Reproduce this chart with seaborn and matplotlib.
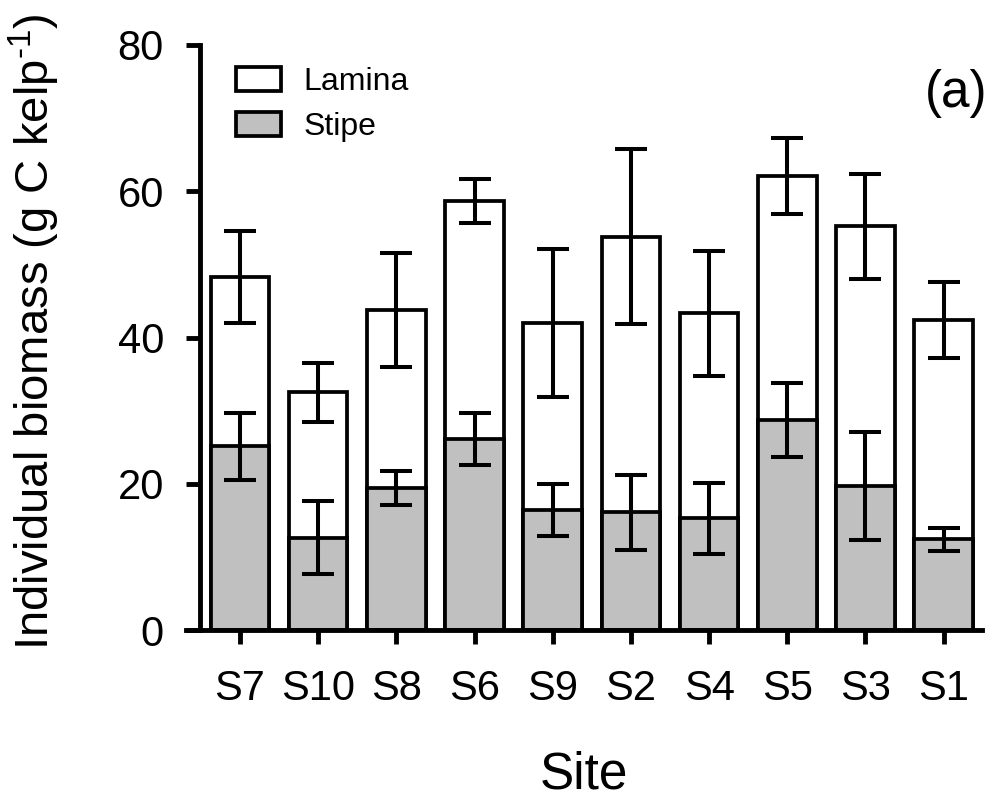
import numpy as np
import pandas as pd
import matplotlib
matplotlib.use("Agg")
import matplotlib.pyplot as plt
import seaborn as sns
from matplotlib.patches import Patch

sites = ["S7", "S10", "S8", "S6", "S9", "S2", "S4", "S5", "S3", "S1"]
total = [48.3, 32.5, 43.7, 58.7, 42.0, 53.8, 43.3, 62.1, 55.2, 42.4]
total_err = [6.3, 4.0, 7.8, 3.0, 10.1, 12.0, 8.5, 5.25, 7.2, 5.2]
stipe = [25.1, 12.6, 19.4, 26.1, 16.4, 16.1, 15.3, 28.7, 19.7, 12.4]
stipe_err = [4.55, 5.0, 2.35, 3.55, 3.6, 5.15, 4.85, 5.1, 7.4, 1.6]
yticks = [0, 20, 40, 60, 80]

sns.set_theme(style="ticks")
plt.rcParams["font.family"] = ["Liberation Sans", "DejaVu Sans"]
plt.rcParams["mathtext.fontset"] = "custom"
plt.rcParams["mathtext.rm"] = "Liberation Sans"
plt.rcParams["mathtext.it"] = "Liberation Sans:italic"
for k in ["text.color", "axes.labelcolor", "xtick.color", "ytick.color", "axes.edgecolor"]:
    plt.rcParams[k] = "black"

df = pd.DataFrame({"Site": sites, "Total": total, "TotalErr": total_err,
                   "Stipe": stipe, "StipeErr": stipe_err})

fig = plt.figure(figsize=(9.98, 7.98), dpi=100)
ax = fig.add_axes([186 / 998, 1 - 630 / 798, (982 - 186) / 998, (630 - 45) / 798])

gray = "#c0c0c0"
edge_lw = 2.7
sns.barplot(data=df, x="Site", y="Total", order=sites, color="white", saturation=1,
            edgecolor="black", linewidth=edge_lw, width=0.75, errorbar=None, ax=ax)
sns.barplot(data=df, x="Site", y="Stipe", order=sites, color=gray, saturation=1,
            edgecolor="black", linewidth=edge_lw, width=0.75, errorbar=None, ax=ax)

pos = np.arange(len(sites))
ax.errorbar(pos, df["Total"], yerr=df["TotalErr"], fmt="none", ecolor="black",
            elinewidth=2.9, capsize=11.5, capthick=2.9, zorder=5)
ax.errorbar(pos, df["Stipe"], yerr=df["StipeErr"], fmt="none", ecolor="black",
            elinewidth=2.9, capsize=11.5, capthick=2.9, zorder=5)

ax.set_ylim(0, 80)
ax.set_xlim(-0.69, 9.49)
ax.set_yticks(yticks)
ax.set_yticklabels([str(v) for v in yticks])

for s in ["top", "right"]:
    ax.spines[s].set_visible(False)
ax.spines["left"].set_position(("data", -0.51))
ax.spines["left"].set_linewidth(3.5)
ax.spines["bottom"].set_linewidth(3.5)
ax.tick_params(axis="both", direction="out", length=10, width=3.5, labelsize=30,
               colors="black")
ax.tick_params(axis="y", pad=16)
ax.tick_params(axis="x", pad=18)

ax.set_xlabel("Site", fontsize=37, labelpad=30)
ax.set_ylabel(r"Individual biomass (g C kelp$^{\text{-}1}$)", fontsize=34)
ax.yaxis.set_label_coords(-0.156, 0.51)

handles = [Patch(facecolor="white", edgecolor="black", linewidth=edge_lw, label="Lamina"),
           Patch(facecolor=gray, edgecolor="black", linewidth=edge_lw, label="Stipe")]
fig.legend(handles=handles, loc="upper left", bbox_to_anchor=(236 / 998, 1 - 67 / 798),
           frameon=False, fontsize=23, handlelength=1.4, handleheight=0.8,
           handletextpad=0.7, labelspacing=0.45, borderpad=0, borderaxespad=0)

fig.text(987 / 998, 1 - 93 / 798, "(a)", fontsize=37, ha="right", va="center")

fig.savefig("out.png", dpi=100)
